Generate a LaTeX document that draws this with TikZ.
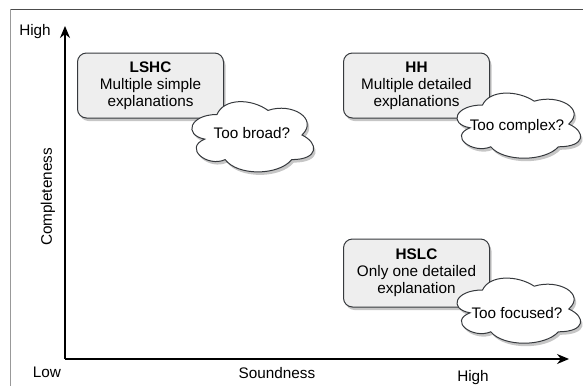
\documentclass[tikz,border=0pt]{standalone}
\usepackage{fontspec}
\setmainfont{Liberation Sans}
\usetikzlibrary{shadows,arrows.meta}
\definecolor{boxfill}{HTML}{EEEEEE}
\definecolor{boxline}{HTML}{36393D}
\newcommand\drawcloud[4]{%
\begin{scope}[shift={(#1,#2)}, x=#3pt, y=-#4pt]
 \fill[black!50, opacity=.45, shift={(2pt,-3pt)}] (0.25,0.25) .. controls (0.05,0.25) and (0,0.5) .. (0.16,0.55) .. controls (0,0.66) and (0.18,0.9) .. (0.31,0.8) .. controls (0.4,1) and (0.7,1) .. (0.8,0.8) .. controls (1,0.8) and (1,0.6) .. (0.875,0.5) .. controls (1,0.3) and (0.8,0.1) .. (0.625,0.2) .. controls (0.5,0.05) and (0.3,0.05) .. (0.25,0.25) -- cycle;
 \filldraw[fill=white, draw=boxline, line width=1pt] (0.25,0.25) .. controls (0.05,0.25) and (0,0.5) .. (0.16,0.55) .. controls (0,0.66) and (0.18,0.9) .. (0.31,0.8) .. controls (0.4,1) and (0.7,1) .. (0.8,0.8) .. controls (1,0.8) and (1,0.6) .. (0.875,0.5) .. controls (1,0.3) and (0.8,0.1) .. (0.625,0.2) .. controls (0.5,0.05) and (0.3,0.05) .. (0.25,0.25) -- cycle;
\end{scope}}
\tikzset{
  lbl/.style={font=\fontsize{15.3}{17}\selectfont, inner sep=0pt, align=center},
  quad/.style={draw=boxline, fill=boxfill, line width=1pt, rounded corners=9pt,
    minimum width=146pt, inner sep=0pt, align=center,
    font=\fontsize{15.3}{17}\selectfont,
    drop shadow={shadow xshift=2pt, shadow yshift=-3pt, fill=black!50, opacity=.45}},
  axis/.style={line width=1.2pt, -{Stealth[length=12pt,width=10pt]}},
}
\begin{document}
\begin{tikzpicture}[x=1pt,y=-1pt]
\useasboundingbox (0,0) rectangle (583,386);
% frame
\draw[black!70, line width=0.8pt] (10,9) -- (583,9);
\draw[black!40, line width=0.8pt] (10,9) -- (10,386);
% axes
\coordinate (o) at (65,359);
\coordinate (ytop) at (65,26);
\coordinate (xend) at (569,359);
\draw[axis] (o) -- (ytop);
\draw[axis] (o) -- (xend);
\node[lbl] (yhigh) at (35,32) {High};
\node[lbl] (low) at (47,372) {Low};
\node[lbl] (xlab) at (277,373) {Soundness};
\node[lbl] (xhigh) at (473,378) {High};
\node[lbl, rotate=90] (ylab) at (48,197) {Completeness};
% boxes
\node[quad, minimum height=65pt] (lshc) at (150.5,85.5) {\textbf{LSHC}\\Multiple simple\\explanations};
\node[quad, minimum height=65pt] (hh) at (416.5,85.5) {\textbf{HH}\\Multiple detailed\\explanations};
\node[quad, minimum height=68pt] (hslc) at (416.5,273) {\textbf{HSLC}\\Only one detailed\\explanation};
% clouds
\drawcloud{183}{94}{136}{82}
\node[lbl] (c1) at (252,133) {Too broad?};
\drawcloud{448}{86}{138}{76}
\node[lbl] (c2) at (517,127) {Too complex?};
\drawcloud{448}{271}{138}{76}
\node[lbl] (c3) at (517,313) {Too focused?};
\end{tikzpicture}
\end{document}
